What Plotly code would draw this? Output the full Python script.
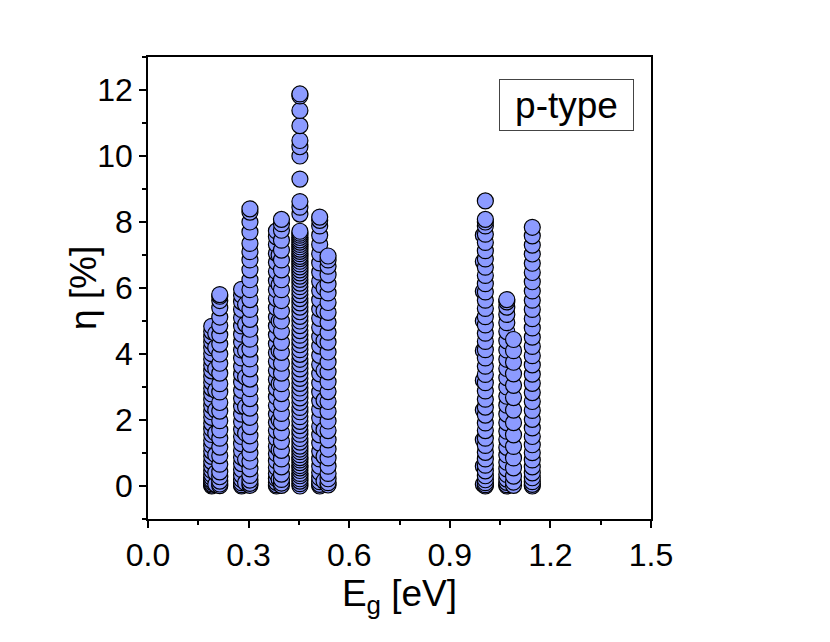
import plotly.graph_objects as go

# band-gap position (eV) of each column of points
eg_a1, eg_a2, eg_a3 = 0.190, 0.202, 0.214
eg_b1, eg_b2, eg_b3 = 0.279, 0.291, 0.304
eg_c1, eg_c2, eg_c3 = 0.383, 0.391, 0.398
eg_d = 0.453
eg_e1, eg_e2, eg_e3 = 0.512, 0.525, 0.537
eg_f1, eg_f2 = 1.000, 1.006
eg_g1, eg_g2 = 1.070, 1.090
eg_h = 1.146

# efficiency values (%)
eta_a1 = [0.00, 0.03, 0.07, 0.12, 0.18, 0.26, 0.35, 0.47, 0.60, 0.74, 0.90, 1.05,
          1.22, 1.38, 1.56, 1.73, 1.90, 2.08, 2.25, 2.43, 2.61, 2.79, 2.96, 3.14,
          3.31, 3.49, 3.66, 3.84, 4.01, 4.19, 4.36, 4.52, 4.68, 4.84]
eta_a2 = [0.05, 0.40, 0.95, 1.60, 2.30, 2.90, 3.55, 4.20, 4.62]
eta_a3 = [0.01, 0.06, 0.15, 0.28, 0.43, 0.66, 0.92, 1.18, 1.45, 1.70, 1.98, 2.27,
          2.53, 2.85, 3.10, 3.42, 3.72, 4.00, 4.30, 4.58, 4.86, 5.12, 5.40, 5.62,
          5.75, 5.80]
eta_b1 = [0.00, 0.04, 0.10, 0.20, 0.33, 0.50, 0.68, 0.87, 1.07, 1.28, 1.50, 1.72,
          1.95, 2.18, 2.42, 2.66, 2.90, 3.15, 3.39, 3.63, 3.88, 4.12, 4.36, 4.60,
          4.85, 5.10, 5.35, 5.58, 5.78, 5.96]
eta_b2 = [0.10, 0.80, 1.60, 2.40, 3.30, 4.10, 4.90, 5.50]
eta_b3 = [0.02, 0.08, 0.18, 0.32, 0.52, 0.75, 1.00, 1.26, 1.52, 1.80, 2.08, 2.36,
          2.65, 2.95, 3.24, 3.55, 3.85, 4.15, 4.45, 4.75, 5.05, 5.35, 5.65, 5.95,
          6.25, 6.55, 6.85, 7.10, 7.35, 7.70, 8.00, 8.30, 8.40]
eta_c1 = [0.00, 0.04, 0.11, 0.22, 0.38, 0.56, 0.76, 0.98, 1.20, 1.44, 1.68, 1.93,
          2.18, 2.44, 2.70, 2.96, 3.23, 3.50, 3.77, 4.04, 4.31, 4.58, 4.85, 5.12,
          5.40, 5.68, 5.95, 6.22, 6.50, 6.78, 7.05, 7.32, 7.55, 7.73]
eta_c2 = [0.20, 1.10, 2.00, 3.10, 4.10, 5.00, 6.10, 7.00]
eta_c3 = [0.02, 0.09, 0.20, 0.36, 0.58, 0.82, 1.08, 1.35, 1.62, 1.92, 2.20, 2.50,
          2.80, 3.10, 3.42, 3.72, 4.05, 4.35, 4.68, 5.00, 5.30, 5.62, 5.95, 6.25,
          6.55, 6.85, 7.15, 7.45, 7.75, 7.95, 8.08]
eta_d = [0.00, 0.07, 0.15, 0.22, 0.31, 0.38, 0.47, 0.55, 0.62, 0.71, 0.79, 0.86,
         0.95, 1.04, 1.12, 1.21, 1.33, 1.44, 1.57, 1.69, 1.83, 1.96, 2.10, 2.25,
         2.38, 2.53, 2.67, 2.82, 2.97, 3.11, 3.26, 3.40, 3.55, 3.70, 3.84, 3.99,
         4.13, 4.28, 4.42, 4.57, 4.71, 4.86, 5.00, 5.14, 5.28, 5.42, 5.55, 5.68,
         5.80, 5.92, 6.04, 6.15, 6.26, 6.36, 6.46, 6.55, 6.64, 6.73, 6.81, 6.89,
         6.96, 7.04, 7.11, 7.18, 7.25, 7.32, 7.39, 7.46, 7.53, 7.60, 7.66, 7.72,
         8.24, 8.45, 8.62, 9.30, 10.00, 10.28, 10.47, 10.92, 11.38, 11.82, 11.88]
eta_e1 = [0.00, 0.05, 0.13, 0.25, 0.41, 0.60, 0.82, 1.05, 1.30, 1.55, 1.80, 2.06,
          2.32, 2.58, 2.85, 3.12, 3.40, 3.68, 3.96, 4.24, 4.52, 4.80, 5.08, 5.36,
          5.64, 5.92, 6.20, 6.48, 6.76, 7.04, 7.32, 7.60, 7.88, 8.05, 8.15]
eta_e2 = [0.15, 0.90, 1.70, 2.60, 3.50, 4.40, 5.30, 6.00]
eta_e3 = [0.03, 0.10, 0.22, 0.38, 0.60, 0.85, 1.12, 1.40, 1.68, 1.97, 2.26, 2.56,
          2.86, 3.16, 3.46, 3.76, 4.06, 4.36, 4.66, 4.96, 5.26, 5.56, 5.85, 6.12,
          6.40, 6.66, 6.85, 6.97]
eta_f1 = [0.05, 0.60, 1.40, 2.30, 3.20, 4.10, 5.00, 5.90, 6.80, 7.60]
eta_f2 = [0.00, 0.04, 0.10, 0.19, 0.31, 0.46, 0.63, 0.82, 1.02, 1.23, 1.45, 1.68,
          1.91, 2.15, 2.39, 2.63, 2.88, 3.13, 3.38, 3.63, 3.88, 4.13, 4.38, 4.63,
          4.88, 5.13, 5.38, 5.63, 5.88, 6.13, 6.38, 6.63, 6.88, 7.13, 7.38, 7.63,
          7.88, 8.00, 8.08, 8.64]
eta_g1 = [0.00, 0.04, 0.11, 0.21, 0.35, 0.52, 0.72, 0.94, 1.17, 1.41, 1.66, 1.92,
          2.18, 2.45, 2.72, 3.00, 3.28, 3.56, 3.84, 4.12, 4.40, 4.68, 4.95, 5.20,
          5.42, 5.58, 5.65]
eta_g2 = [0.02, 0.12, 0.30, 0.55, 0.85, 1.20, 1.55, 1.92, 2.30, 2.68, 3.05, 3.40,
          3.75, 4.10, 4.44]
eta_h = [0.00, 0.05, 0.13, 0.25, 0.40, 0.58, 0.79, 1.01, 1.25, 1.50, 1.76, 2.02,
         2.29, 2.56, 2.83, 3.11, 3.39, 3.67, 3.95, 4.23, 4.51, 4.79, 5.07, 5.35,
         5.63, 5.91, 6.19, 6.47, 6.75, 7.03, 7.30, 7.58, 7.84]

columns = [
    (eg_a1, eta_a1), (eg_a2, eta_a2), (eg_a3, eta_a3),
    (eg_b1, eta_b1), (eg_b2, eta_b2), (eg_b3, eta_b3),
    (eg_c1, eta_c1), (eg_c2, eta_c2), (eg_c3, eta_c3),
    (eg_d, eta_d),
    (eg_e1, eta_e1), (eg_e2, eta_e2), (eg_e3, eta_e3),
    (eg_f1, eta_f1), (eg_f2, eta_f2),
    (eg_g1, eta_g1), (eg_g2, eta_g2),
    (eg_h, eta_h),
]

xs, ys = [], []
for eg, etas in columns:
    xs += [eg] * len(etas)
    ys += etas

font = "Liberation Sans, Arial, sans-serif"

fig = go.Figure(go.Scatter(
    x=xs, y=ys, mode="markers", showlegend=False,
    marker=dict(size=16, color="#8C9BFF", line=dict(color="black", width=1.2)),
))

axis_common = dict(
    showline=True, mirror=True, linecolor="black", linewidth=1.5,
    showgrid=False, zeroline=False, ticks="outside", ticklen=7,
    tickwidth=1.5, tickcolor="black",
    tickfont=dict(family=font, size=32, color="black"),
)

fig.update_xaxes(
    range=[0, 1.5], tick0=0, dtick=0.3, tickformat=".1f",
    minor=dict(dtick=0.15, ticks="outside", ticklen=4, tickwidth=1.5, tickcolor="black"),
    title=dict(text="E<sub>g</sub> [eV]", font=dict(family=font, size=37, color="black"), standoff=6),
    **axis_common,
)
fig.update_yaxes(
    range=[-1, 13], tick0=0, dtick=2,
    minor=dict(dtick=1, ticks="outside", ticklen=4, tickwidth=1.5, tickcolor="black"),
    **axis_common,
)

# y title placed by hand so it sits as close to the labels as in the original
fig.add_annotation(
    x=-0.129, y=0.5, xref="paper", yref="paper", showarrow=False,
    xanchor="center", yanchor="middle", textangle=-90,
    text="η [%]", font=dict(family=font, size=37, color="black"),
)

fig.add_annotation(
    x=0.832, y=0.896, xref="paper", yref="paper", showarrow=False,
    xanchor="center", yanchor="middle",
    text="p-type", font=dict(family=font, size=37, color="black"),
    width=133, height=50, borderpad=0, bordercolor="#444", borderwidth=1,
    bgcolor="white",
)

# page body has an 8px default margin, so pull the plot area back by that much
fig.update_layout(
    width=830, height=642,
    margin=dict(l=140, r=187, t=49, b=131),
    paper_bgcolor="white", plot_bgcolor="white",
)

fig.write_html("out.html")
